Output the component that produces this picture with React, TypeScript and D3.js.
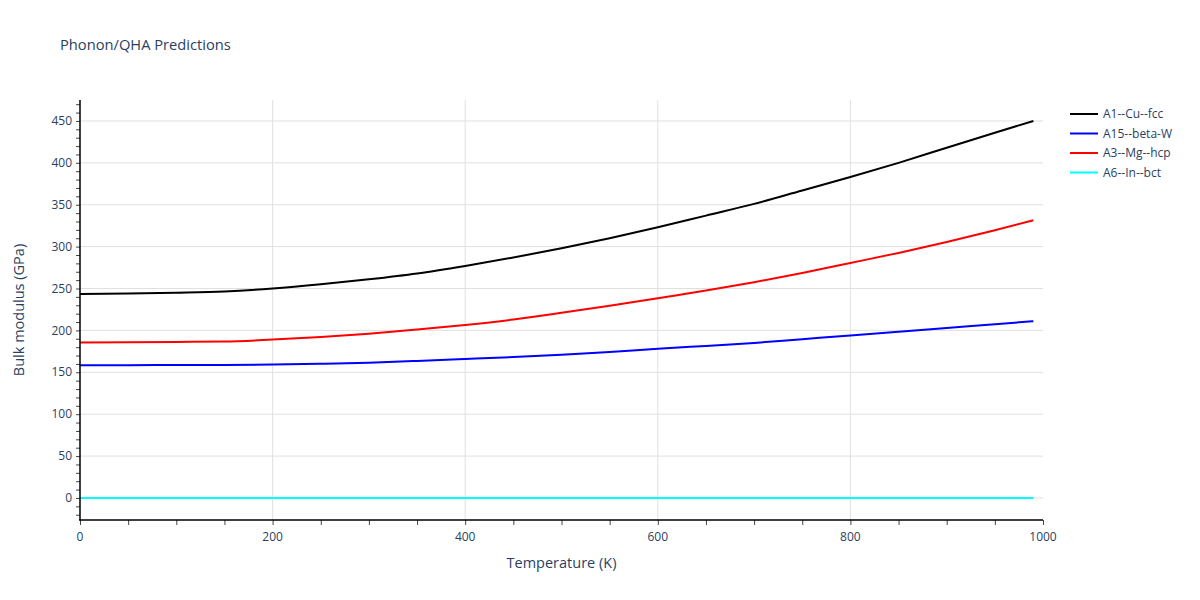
//@ts-nocheck
import * as d3 from "d3";
import { useEffect, useRef } from "react";

// temperatures (K) and bulk modulus (GPa)
const temps = [0, 50, 100, 150, 200, 250, 300, 350, 400, 450, 500, 550, 600, 650, 700, 750, 800, 850, 900, 950, 990];
const cuFcc = [243.5, 244, 245, 246.5, 250, 255, 261, 268, 277, 287, 298, 310, 323, 337, 351, 367, 383, 400, 418, 436, 450];
const betaW = [158.5, 158.5, 158.7, 158.8, 159.2, 160.2, 161.5, 163.5, 165.8, 168.2, 171, 174.3, 178, 181.5, 185, 189.5, 194, 198.5, 203, 207.3, 211];
const mgHcp = [185.5, 185.8, 186.2, 186.7, 189, 192, 196, 201, 206.5, 213, 221, 229.5, 238.5, 247.5, 257.5, 268.5, 280.5, 292.5, 305.5, 319.5, 331.5];
const inBct = [0, 0, 0, 0, 0, 0, 0, 0, 0, 0, 0, 0, 0, 0, 0, 0, 0, 0, 0, 0, 0];

const seriesNames = ["A1--Cu--fcc", "A15--beta-W", "A3--Mg--hcp", "A6--In--bct"];
const seriesValues = [cuFcc, betaW, mgHcp, inBct];
const seriesColors = ["#000000", "#0000ff", "#ff0000", "#00ffff"];

const xTicks = [0, 200, 400, 600, 800, 1000];
const yTicks = [0, 50, 100, 150, 200, 250, 300, 350, 400, 450];

const App = () => {
  const ref = useRef(null);

  useEffect(() => {
    const svg = d3.select(ref.current);
    svg.selectAll("*").remove();
    const font = "'Open Sans', Verdana, Arial, sans-serif";
    const textColor = "#2a3f5f";
    const left = 80, right = 1043, top = 100, bottom = 520;

    const x = d3.scaleLinear().domain([0, 1000]).range([left, right]);
    const y = d3.scaleLinear().domain([-26.3, 475]).range([bottom, top]);

    svg.append("rect").attr("width", 1200).attr("height", 600).attr("fill", "#fff");

    // grid
    const g = svg.append("g");
    g.selectAll(".gx").data(xTicks.filter(d => d > 0 && d < 1000)).enter().append("line")
      .attr("x1", d => x(d)).attr("x2", d => x(d)).attr("y1", top).attr("y2", bottom)
      .attr("stroke", "#e0e0e0").attr("stroke-width", 1);
    g.selectAll(".gy").data(yTicks).enter().append("line")
      .attr("x1", left).attr("x2", right).attr("y1", d => y(d)).attr("y2", d => y(d))
      .attr("stroke", "#e0e0e0").attr("stroke-width", 1);

    // lines
    const line = d3.line().x((d, i) => x(temps[i])).y(d => y(d)).curve(d3.curveMonotoneX);
    seriesValues.forEach((vals, k) => {
      svg.append("path").datum(vals).attr("d", line)
        .attr("fill", "none").attr("stroke", seriesColors[k]).attr("stroke-width", 2);
    });

    // x axis
    const xa = svg.append("g").attr("transform", `translate(0,${bottom})`);
    xa.call(d3.axisBottom(x).tickValues(d3.range(0, 1001, 50)).tickSize(5).tickFormat(() => ""));
    xa.select(".domain").remove();
    xa.selectAll("line").attr("stroke", "#444");
    xa.append("line").attr("x1", left - 1).attr("x2", right).attr("stroke", "#000").attr("stroke-width", 1.5);
    xa.selectAll(".lbl").data(xTicks).enter().append("text")
      .attr("x", d => x(d)).attr("y", 21).attr("text-anchor", "middle")
      .attr("font-family", font).attr("font-size", 12).attr("fill", textColor).text(d => d);

    // y axis
    const ya = svg.append("g").attr("transform", `translate(${left},0)`);
    ya.call(d3.axisLeft(y).tickValues(d3.range(-20, 471, 10)).tickSize(4).tickFormat(() => ""));
    ya.select(".domain").remove();
    ya.selectAll("line").attr("stroke", "#444");
    ya.append("line").attr("y1", top).attr("y2", bottom).attr("stroke", "#000").attr("stroke-width", 1.5);
    ya.selectAll(".lbl").data(yTicks).enter().append("text")
      .attr("x", -8).attr("y", d => y(d)).attr("dy", "0.35em").attr("text-anchor", "end")
      .attr("font-family", font).attr("font-size", 12).attr("fill", textColor).text(d => d);

    // titles
    svg.append("text").attr("x", 60).attr("y", 50).attr("font-family", font).attr("font-size", 14.7)
      .attr("fill", textColor).text("Phonon/QHA Predictions");
    svg.append("text").attr("x", (left + right) / 2).attr("y", 568).attr("text-anchor", "middle")
      .attr("font-family", font).attr("font-size", 14.5).attr("fill", textColor).text("Temperature (K)");
    svg.append("text").attr("transform", `translate(24,${(top + bottom) / 2}) rotate(-90)`)
      .attr("text-anchor", "middle").attr("font-family", font).attr("font-size", 14.5)
      .attr("fill", textColor).text("Bulk modulus (GPa)");

    // legend
    const lg = svg.append("g").attr("transform", "translate(1070,114)");
    seriesNames.forEach((name, k) => {
      const row = lg.append("g").attr("transform", `translate(0,${k * 19.5})`);
      row.append("line").attr("x1", 0).attr("x2", 28).attr("stroke", seriesColors[k]).attr("stroke-width", 2);
      row.append("text").attr("x", 33).attr("dy", "0.35em").attr("font-family", font)
        .attr("font-size", 12).attr("fill", textColor).text(name);
    });
  }, []);

  return <svg ref={ref} width={1200} height={600} style={{ display: "block", margin: "-8px" }}></svg>;
};

export default App;
